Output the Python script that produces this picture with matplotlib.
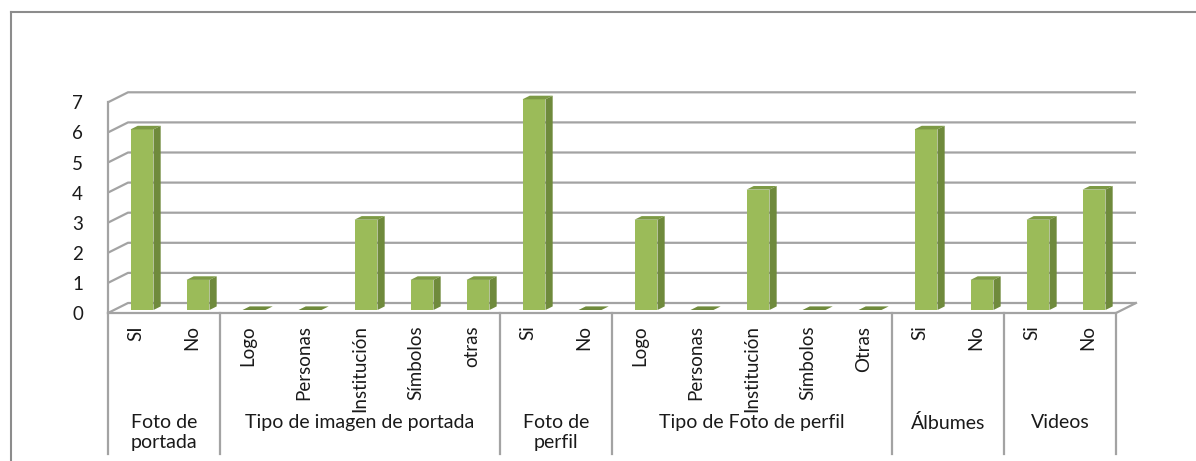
import matplotlib.pyplot as plt
from matplotlib.patches import Polygon
from matplotlib.lines import Line2D
import numpy as np

# datos
grupos = ["Foto de\nportada", "Tipo de imagen de portada", "Foto de\nperfil",
          "Tipo de Foto de perfil", "Álbumes", "Videos"]
etiquetas = [["SI", "No"],
             ["Logo", "Personas", "Institución", "Símbolos", "otras"],
             ["Si", "No"],
             ["Logo", "Personas", "Institución", "Símbolos", "Otras"],
             ["Si", "No"],
             ["Si", "No"]]
valores = [[6, 1],
           [0, 0, 3, 1, 1],
           [7, 0],
           [3, 0, 4, 0, 0],
           [6, 1],
           [3, 4]]

plt.rcParams['font.family'] = ['Lato', 'DejaVu Sans']

W, H = 1196, 461
fig = plt.figure(figsize=(W / 100, H / 100), dpi=100)
fig.patch.set_facecolor('white')

# geometria (pixeles de la imagen)
x0, x1 = 108, 1116
y_piso = 313
px_val = 30.1
ax = fig.add_axes([x0 / W, (H - y_piso) / H, (x1 - x0) / W, 8 * px_val / H])

n = sum(len(e) for e in etiquetas)
ax.set_xlim(0, n)
ax.set_ylim(0, 8)

# profundidad del efecto 3D en unidades de datos
DX = 20 / ((x1 - x0) / n)
DY = 10 / px_val
d0, d1 = 0.3, 0.66
ancho = 0.41

gris = '#a3a3a3'
verde = '#9bbb59'
verde_osc = '#6f8a3c'
verde_top = '#7d9a45'

# paredes y cuadricula
for v in range(8):
    ax.plot([0, DX, n + DX], [v, v + DY, v + DY], color=gris, lw=1.6,
            clip_on=False, zorder=1, solid_capstyle='butt')
ax.plot([0, 0], [0, 7], color=gris, lw=1.6, clip_on=False, zorder=1)
ax.plot([0, n, n + DX], [0, 0, DY], color=gris, lw=1.6, clip_on=False, zorder=1)

# barras
vals = [v for g in valores for v in g]
xs = np.arange(n) + 0.5
xf = xs + d0 * DX
ax.bar(xf, vals, width=ancho, bottom=d0 * DY, color=verde, zorder=3,
       clip_on=False, linewidth=0)
prof = (d1 - d0)
for x, v in zip(xf, vals):
    l, r = x - ancho / 2, x + ancho / 2
    b = d0 * DY
    t = b + v
    top = Polygon([(l, t), (r, t), (r + prof * DX, t + prof * DY),
                   (l + prof * DX, t + prof * DY)], closed=True,
                  facecolor=verde_top if v > 0 else verde_osc,
                  edgecolor='none', zorder=4, clip_on=False)
    ax.add_patch(top)
    if v > 0:
        lado = Polygon([(r, b), (r + prof * DX, b + prof * DY),
                        (r + prof * DX, t + prof * DY), (r, t)], closed=True,
                       facecolor=verde_osc, edgecolor='none', zorder=4,
                       clip_on=False)
        ax.add_patch(lado)

# ejes
for s in ax.spines.values():
    s.set_visible(False)
ax.set_yticks(range(8))
ax.tick_params(axis='y', length=0, pad=18, labelsize=13.5, labelcolor='#1a1a1a')
ax.set_xticks(xs)
ax.set_xticklabels([e for g in etiquetas for e in g], rotation=90, va='top',
                   ha='center')
ax.tick_params(axis='x', length=0, pad=9, labelsize=13.5, labelcolor='#1a1a1a')

# etiquetas de grupo y separadores
lim = [0]
for g in etiquetas:
    lim.append(lim[-1] + len(g))
y_sep = -(454 - y_piso) / px_val
y_grp = -(414 - y_piso) / px_val
for xl in lim:
    ax.plot([xl, xl], [0, y_sep], color=gris, lw=1.6, clip_on=False, zorder=1)
for i, nombre in enumerate(grupos):
    ax.text((lim[i] + lim[i + 1]) / 2, y_grp, nombre, ha='center', va='top',
            fontsize=14, color='#1a1a1a', linespacing=1.2, clip_on=False)

# marco exterior
fig.add_artist(Line2D([11 / W, 11 / W], [0, 1 - 12 / H], color='#8c8c8c',
                      lw=1.5, transform=fig.transFigure))
fig.add_artist(Line2D([11 / W, 1], [1 - 12 / H, 1 - 12 / H], color='#8c8c8c',
                      lw=1.5, transform=fig.transFigure))

fig.savefig('out.png', dpi=100, facecolor='white')
